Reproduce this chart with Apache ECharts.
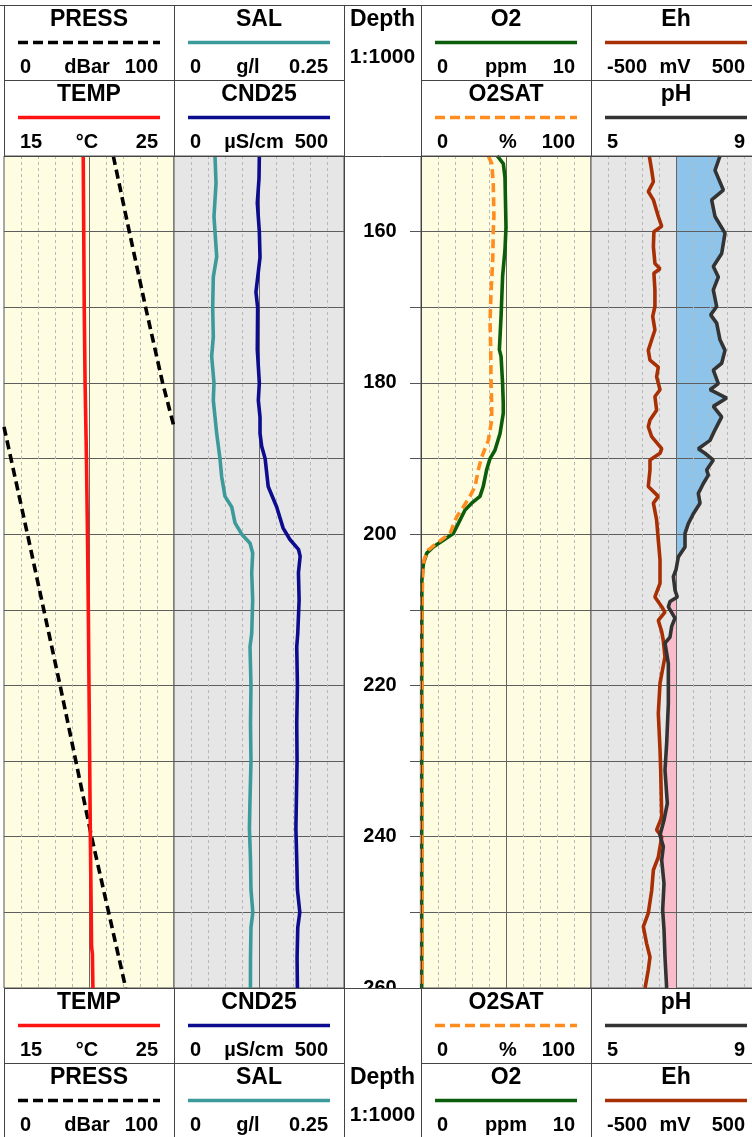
<!DOCTYPE html>
<html><head><meta charset="utf-8">
<script src="https://cdn.jsdelivr.net/npm/echarts@6/dist/echarts.min.js"></script>
<style>html,body{margin:0;padding:0;overflow:hidden;background:#fff}#c{width:762px;height:1137px}</style>
</head><body><div id="c"></div>
<script>
// ---------------- DATA ----------------
const depthMin = 150, depthMax = 260, depthStep = 10, depthLabelStep = 20;

const tempDepth = [150, 160, 170, 180, 190, 200, 210, 220, 230, 240, 250, 254.5, 255.5, 260];
const tempVal   = [19.66, 19.69, 19.72, 19.77, 19.85, 19.91, 19.96, 20.0, 20.04, 20.08, 20.13, 20.15, 20.2, 20.23];

// pressure log wraps at the right edge of the track (100 -> 0)
const pressDepth = [150, 160, 170, 180, 185.8, null, 185.8, 200, 220, 240, 260];
const pressVal   = [64.3, 73.7, 83.3, 93.3, 100, null, 0, 13.8, 33, 51.5, 71.6];

const salDepth = [150, 153.6, 158, 160, 163.3, 166, 170, 173.9, 176.5, 180, 182.3, 186.7, 190, 192.4, 195, 196.4, 198.5, 200, 201.2, 202.5, 205.1, 208.7, 213.1, 214.9, 220, 225, 230, 235, 238.9, 243, 247, 250, 252, 256, 260];
const salVal   = [0.0603, 0.0618, 0.0588, 0.0603, 0.0628, 0.0578, 0.0569, 0.0578, 0.0554, 0.0588, 0.0578, 0.0628, 0.0676, 0.0701, 0.075, 0.0849, 0.0897, 0.0996, 0.1118, 0.1157, 0.1143, 0.1157, 0.1143, 0.1118, 0.1132, 0.1125, 0.1132, 0.1118, 0.1109, 0.1125, 0.1132, 0.1159, 0.1132, 0.1125, 0.1124];

const cndDepth = [150, 153, 156.2, 160, 163.4, 168, 170, 175.6, 180, 182.3, 184.5, 186.7, 188.4, 190, 193.7, 196.4, 199.2, 200.7, 202, 202.9, 205.1, 208.7, 213.1, 214.9, 220, 225, 230, 235, 238.9, 243, 247, 250, 252, 256, 260];
const cndVal   = [251, 250, 245, 251, 253, 241, 246, 245, 251, 248, 253, 253, 258, 268, 277, 302, 321, 341, 366, 371, 366, 368, 364, 361, 363, 361, 362, 360, 358.5, 361, 363, 370, 364, 362, 363];

const o2Depth = [150, 151, 152.8, 159.4, 162.4, 165.9, 171.2, 175.6, 176.5, 180.1, 182.7, 184, 186.7, 188.9, 190, 191.5, 193.7, 195, 195.9, 196.8, 198.6, 199.9, 200.8, 201.7, 202.5, 203.9, 206.1, 220, 240, 260];
const o2Val   = [4.49, 4.84, 4.94, 5.0, 4.94, 4.8, 4.71, 4.61, 4.71, 4.8, 4.84, 4.84, 4.65, 4.35, 4.06, 3.86, 3.66, 3.47, 2.98, 2.59, 2.19, 1.9, 1.31, 0.72, 0.34, 0.14, 0.05, 0.04, 0.04, 0.04];

const o2satDepth = [150, 151, 153.6, 158, 160, 163.7, 168, 172, 175.6, 180, 183, 184.9, 187.6, 189.8, 191.5, 193.7, 195, 196.4, 197.7, 199.9, 201.2, 202.1, 203.4, 205.2, 210, 240, 260];
const o2satVal   = [39.6, 41.6, 42.5, 42.9, 42.5, 42.2, 41.2, 40.6, 41.0, 41.2, 41.6, 41.6, 39.6, 35.7, 33.7, 31.8, 28.8, 24.9, 21.0, 17.1, 9.2, 4.3, 1.8, 1.0, 0.5, 0.5, 0.5];

const ehDepth = [150, 151.9, 153.4, 154.7, 155.8, 158, 159.3, 160, 162, 164.2, 164.9, 165.5, 167.7, 169.9, 171.2, 173, 174.3, 175.7, 177, 177.9, 179.2, 180.9, 181.8, 183.6, 184.9, 185.8, 187.1, 188.7, 189.3, 190.2, 191.5, 193.7, 195, 195.9, 198.1, 200.8, 203.4, 206.5, 208.3, 209.6, 210.3, 211.4, 212.9, 214, 216.2, 219.7, 223.7, 228.5, 231.2, 237.4, 239.1, 240, 242.7, 244.4, 247.1, 250.1, 251.9, 254.1, 255.9, 257.6, 260];
const ehVal   = [-157, -143, -133, -163, -133, -104, -84, -130, -133, -124, -94, -130, -124, -124, -137, -124, -143, -163, -153, -104, -114, -94, -124, -114, -153, -163, -143, -84, -94, -153, -153, -163, -104, -133, -114, -104, -94, -94, -124, -84, -65, -104, -84, -75, -65, -94, -104, -94, -90, -84, -114, -84, -104, -133, -143, -163, -192, -173, -153, -163, -182];

const phDepth = [150, 151.9, 154.5, 155.8, 158, 160.2, 162.9, 164.6, 166, 167.7, 169.9, 171, 172.1, 174.3, 175.7, 177.4, 178.3, 180.1, 180.9, 182, 183.1, 184.5, 186.2, 187.6, 188.7, 189.3, 190.2, 191.5, 192.2, 193.3, 194.6, 195.9, 197.3, 198.6, 199.9, 201.7, 203, 204.7, 205.6, 207.4, 208.3, 208.9, 209.6, 211.1, 212.2, 213.6, 214.4, 217.1, 222.4, 227.7, 231.2, 235.6, 237.8, 239.8, 241.3, 243.1, 246.2, 249.7, 252.3, 255.9, 260];
const phVal   = [8.035, 7.918, 8.114, 7.839, 7.918, 8.153, 8.075, 7.878, 7.996, 7.878, 7.957, 7.816, 7.957, 8.035, 8.153, 8.075, 7.878, 7.996, 7.8, 8.192, 7.878, 8.075, 7.918, 7.8, 7.525, 7.682, 7.878, 7.721, 7.761, 7.643, 7.525, 7.565, 7.408, 7.29, 7.212, 7.212, 7.055, 7.0, 6.937, 6.976, 7.031, 6.859, 6.82, 6.976, 6.898, 6.859, 6.741, 6.82, 6.82, 6.78, 6.741, 6.796, 6.718, 6.623, 6.702, 6.663, 6.718, 6.686, 6.718, 6.741, 6.78];
const phNeutral = 7;

// scale definitions per track: [primary, secondary]
const scales = [
  [{name:'PRESS', min:0, max:100, lo:'0', unit:'dBar', hi:'100'}, {name:'TEMP', min:15, max:25, lo:'15', unit:'°C', hi:'25'}],
  [{name:'SAL', min:0, max:0.25, lo:'0', unit:'g/l', hi:'0.25'}, {name:'CND25', min:0, max:500, lo:'0', unit:'µS/cm', hi:'500'}],
  [{name:'O2', min:0, max:10, lo:'0', unit:'ppm', hi:'10'}, {name:'O2SAT', min:0, max:100, lo:'0', unit:'%', hi:'100'}],
  [{name:'Eh', min:-500, max:500, lo:'-500', unit:'mV', hi:'500'}, {name:'pH', min:5, max:9, lo:'5', unit:'', hi:'9'}]
];

// ---------------- LAYOUT / STYLE ----------------
const FONT = '"Liberation Sans", Arial, Helvetica, sans-serif';
const COL = {PRESS:'#000000', TEMP:'#ff1414', SAL:'#3c9a9a', CND25:'#0c0c8e', O2:'#0b5d0b', O2SAT:'#ff8c1e', Eh:'#a82e04', pH:'#333333'};
const DASHED = {PRESS:true, O2SAT:true};
const unitX = {dBar:87, '°C':87, 'g/l':248, 'µS/cm':254, ppm:506, '%':508, mV:675, '':676};
const cols = [[4,174],[174,344],[421,591],[591,761]];
const plotTop = 156, plotBot = 988;

const grid = cols.map((c,i)=>({left:c[0], top:plotTop, width:c[1]-c[0], height:plotBot-plotTop, show:true,
  backgroundColor: i%2 ? '#e6e6e6' : '#fefde2', borderColor:'#555', borderWidth:1}));

const xAxis = [];
cols.forEach((c,g)=>{
  xAxis.push({gridIndex:g, type:'value', min:0, max:10, interval:1, z:3, axisLine:{show:false}, axisTick:{show:false}, axisLabel:{show:false},
    splitLine:{show:true, showMinLine:false, showMaxLine:false, lineStyle:{color:'#b8b8b8', width:1, type:[3,3]}}});
  xAxis.push({gridIndex:g, type:'value', min:0, max:2, interval:1, z:3, axisLine:{show:false}, axisTick:{show:false}, axisLabel:{show:false},
    splitLine:{show:true, showMinLine:false, showMaxLine:false, lineStyle:{color:'#666', width:1}}});
  scales[g].forEach(s=>xAxis.push({gridIndex:g, type:'value', min:s.min, max:s.max, show:false}));
});

const yAxis = cols.map((c,g)=>({gridIndex:g, type:'value', inverse:true, min:depthMin, max:depthMax, interval:depthStep,
  position: g===1 ? 'right' : 'left', z:3,
  axisLine:{show:false},
  axisTick:{show: g===1 || g===2, length:11, inside:false, lineStyle:{color:'#555', width:1}},
  axisLabel:{show: g===1, margin:36, align:'center', color:'#000', fontSize:20, fontWeight:'bold', fontFamily:FONT, showMinLabel:false, showMaxLabel:true,
    formatter: v => (Math.round(v) % depthLabelStep === 0 ? String(Math.round(v)) : '')},
  splitLine:{show:true, lineStyle:{color:'#5e5e5e', width:1}}}));

function pts(depths, vals){ return depths.map((d,i)=> d==null ? ['-','-'] : [vals[i], d]); }
function lineSeries(name, g, k, depths, vals, z){
  return {name, type:'line', xAxisIndex:g*4+2+k, yAxisIndex:g, data:pts(depths, vals), showSymbol:false, symbol:'none',
    z:z||5, silent:true, animation:false, connectNulls:false,
    lineStyle:{color:COL[name], width:3.6, type: DASHED[name] ? [9,5] : 'solid'}};
}

const series = [
  {type:'custom', name:'pHfill', xAxisIndex:3*4+3, yAxisIndex:3, z:1, silent:true, animation:false, data:[[phNeutral, 200]],
    renderItem:(params, api)=>{
      const n = phDepth.length;
      const blue = [api.coord([phNeutral, phDepth[0]])], pink = [api.coord([phNeutral, phDepth[0]])];
      for (let i=0;i<n;i++){
        blue.push(api.coord([Math.max(phVal[i], phNeutral), phDepth[i]]));
        pink.push(api.coord([Math.min(phVal[i], phNeutral), phDepth[i]]));
      }
      blue.push(api.coord([phNeutral, phDepth[n-1]])); pink.push(api.coord([phNeutral, phDepth[n-1]]));
      return {type:'group', children:[
        {type:'polygon', shape:{points:blue}, style:{fill:'#8ec4ea'}},
        {type:'polygon', shape:{points:pink}, style:{fill:'#f8bccb'}}]};
    }},
  lineSeries('PRESS', 0, 0, pressDepth, pressVal),
  lineSeries('TEMP', 0, 1, tempDepth, tempVal),
  lineSeries('SAL', 1, 0, salDepth, salVal),
  lineSeries('CND25', 1, 1, cndDepth, cndVal),
  lineSeries('O2', 2, 0, o2Depth, o2Val, 5),
  lineSeries('O2SAT', 2, 1, o2satDepth, o2satVal, 6),
  lineSeries('Eh', 3, 0, ehDepth, ehVal),
  lineSeries('pH', 3, 1, phDepth, phVal)
];

// ---------------- HEADER / FOOTER ----------------
const gr = [];
const LINEC = '#444';
function txt(x, y, text, size, align){ gr.push({type:'text', z:102, silent:true, style:{text, x, y, fontSize:size, fontWeight:'bold', fontFamily:FONT, fill:'#000', align, verticalAlign:'middle'}}); }
function ln(x1, y1, x2, y2, stroke, w, dash){ gr.push({type:'line', z:101, silent:true, shape:{x1,y1,x2,y2}, style:{stroke, lineWidth:w, lineDash:dash||null}}); }
gr.push({type:'rect', z:100, silent:true, shape:{x:0, y:989, width:762, height:148}, style:{fill:'#fff'}});

function cell(c, top, s){
  const [a,b] = c;
  txt((a+b)/2, top+15, s.name, 23, 'center');
  ln(a+14, top+37.5, b-14, top+37.5, COL[s.name], 3.6, DASHED[s.name] ? [10,5] : null);
  txt(a+16, top+62, s.lo, 20, 'left');
  if (s.unit) txt(unitX[s.unit], top+62, s.unit, 20, 'center');
  txt(b-16, top+62, s.hi, 20, 'right');
}
const rowsHead = [5, 80], rowsFoot = [988, 1063];
cols.forEach((c,g)=>{
  cell(c, rowsHead[0], scales[g][0]);
  cell(c, rowsHead[1], scales[g][1]);
  cell(c, rowsFoot[0], scales[g][1]);
  cell(c, rowsFoot[1], scales[g][0]);
});
// depth column text
txt(382.5, rowsHead[0]+15, 'Depth', 23, 'center');
txt(382.5, rowsHead[0]+52, '1:1000', 21, 'center');
txt(382.5, rowsFoot[1]+15, 'Depth', 23, 'center');
txt(382.5, rowsFoot[1]+52, '1:1000', 21, 'center');
// table lines
ln(0, 5.5, 762, 5.5, LINEC, 1);
[80.5, 1063.5].forEach(y=>{ ln(4, y, 344, y, LINEC, 1); ln(421, y, 761, y, LINEC, 1); });
[156.5, 988.5].forEach(y=> ln(4, y, 761, y, LINEC, 1));
[4.5, 174.5, 344.5, 421.5, 591.5, 760.5].forEach(x=>{ ln(x, 5, x, 156, LINEC, 1); ln(x, 988, x, 1137, LINEC, 1); });
[344.5, 421.5].forEach(x=> ln(x, 156, x, 988, LINEC, 1));

const chart = echarts.init(document.getElementById('c'), null, {renderer:'canvas'});
chart.setOption({animation:false, backgroundColor:'#fff', grid, xAxis, yAxis, series, graphic:{elements:gr}});
</script></body></html>
